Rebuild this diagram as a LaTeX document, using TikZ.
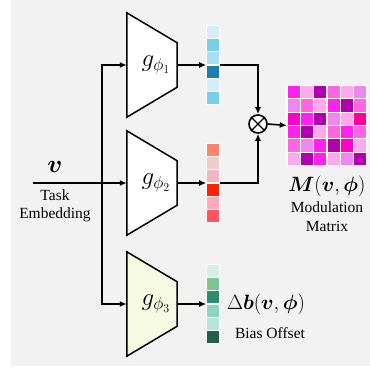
\documentclass[tikz,border=0pt]{standalone}
\usepackage{amsmath, amssymb, bm}
\usepackage{fontspec}
\setmainfont{Liberation Serif}
\usepackage{tikz}
\usetikzlibrary{positioning, arrows.meta, calc}

\definecolor{bggray}{HTML}{F2F2F2}
\definecolor{encyellow}{HTML}{F7FAE3}
% blue vector
\definecolor{b1}{HTML}{D4EEF8}
\definecolor{b2}{HTML}{7ACDEB}
\definecolor{b3}{HTML}{A8DDF2}
\definecolor{b4}{HTML}{1A7FAF}
% red vector
\definecolor{r1}{HTML}{FF8470}
\definecolor{r2}{HTML}{F2CBC8}
\definecolor{r3}{HTML}{F0B7C0}
\definecolor{r4}{HTML}{FF2200}
\definecolor{r5}{HTML}{FFAAB5}
\definecolor{r6}{HTML}{FF5560}
% green vector
\definecolor{t1}{HTML}{D6EFE6}
\definecolor{t2}{HTML}{80C494}
\definecolor{t3}{HTML}{2E8B6E}
\definecolor{t4}{HTML}{8CD4C0}
\definecolor{t5}{HTML}{B7E4D6}
\definecolor{t6}{HTML}{1F5F4C}
% modulation matrix
\definecolor{mA}{HTML}{FF22EE}
\definecolor{mB}{HTML}{FFAAEE}
\definecolor{mC}{HTML}{B000B0}
\definecolor{mD}{HTML}{FF66E0}
\definecolor{mE}{HTML}{EE88EE}
\definecolor{mF}{HTML}{FF00CC}
\definecolor{mG}{HTML}{FF0099}

\begin{document}
\begin{tikzpicture}[x=1pt, y=-1pt,
    encbox/.style={minimum width=50pt, minimum height=104pt, inner sep=0pt},
    enc/.style={draw, line width=1.5pt, line join=miter},
    vecbox/.style={minimum width=13.2pt, minimum height=79.2pt, inner sep=0pt},
    cell/.style={draw=white, line width=1.2pt, minimum size=13.2pt, inner sep=0pt},
    arr/.style={-{Latex[length=7pt,width=6pt]}, line width=1.6pt},
    lbl/.style={font=\fontsize{20}{24}\selectfont, inner sep=1pt},
    glbl/.style={font=\fontsize{25}{30}\selectfont, inner sep=1pt},
    txt/.style={font=\fontsize{15.5}{18.5}\selectfont, align=center, inner sep=1pt}]

    \useasboundingbox (0,0) rectangle (370,369);
    \fill[bggray] (11,0) rectangle (370,366);

    % encoders
    \foreach \i/\y/\col in {1/65/white, 2/183/white, 3/304/encyellow}{
        \node[encbox] (g\i) at (152,\y) {};
        \draw[enc, fill=\col] (g\i.north west) -- ([yshift=-30pt]g\i.north east)
            -- ([yshift=30pt]g\i.south east) -- (g\i.south west) -- cycle;
        \node[glbl] (g\i lbl) at ([xshift=4pt]g\i.center) {$g_{\phi_\i}$};
    }

    % output vectors
    \node[vecbox] (v1) at (213,65) {};
    \node[vecbox] (v2) at (213,183) {};
    \node[vecbox] (v3) at (213,304) {};
    \foreach \c [count=\k] in {b1,b2,b3,b4,b1,b2}
        \node[cell, fill=\c] (v1-\k) at (213,65-39.6+13.2*\k-6.6) {};
    \foreach \c [count=\k] in {r1,r2,r3,r4,r5,r6}
        \node[cell, fill=\c] (v2-\k) at (213,183-39.6+13.2*\k-6.6) {};
    \foreach \c [count=\k] in {t1,t2,t3,t4,t5,t6}
        \node[cell, fill=\c] (v3-\k) at (213,304-39.6+13.2*\k-6.6) {};

    % modulation matrix
    \node[minimum size=80pt, inner sep=0pt] (M) at (327,125.5) {};
    \foreach \row [count=\r] in {{mA,mB,mC,mD,mB,mE},{mE,mD,mB,mA,mC,mD},
            {mF,mA,mC,mE,mB,mG},{mA,mC,mB,mD,mA,mD},{mD,mE,mA,mC,mF,mB},
            {mB,mC,mA,mB,mE,mC}}
        \foreach \c [count=\k] in \row
            \node[cell, minimum size=13.33pt, fill=\c] (M-\r-\k)
                at (287+13.33*\k-6.67, 85.5+13.33*\r-6.67) {};

    \node[circle, draw, line width=1.6pt, minimum size=18pt, inner sep=0pt, fill=white] (mul) at (258,124) {};
    \draw[line width=1.4pt] (mul.north west) -- (mul.south east);
    \draw[line width=1.4pt] (mul.north east) -- (mul.south west);

    % input
    \coordinate (in) at (33,183);
    \coordinate (split) at (102,183);
    \node[glbl] (vlbl) at (55,167) {$\bm{v}$};
    \node[txt] (task) at (55,206) {Task\\Embedding};

    \draw[arr] (in) -- (g2.west);
    \draw[arr] (split) |- (g1.west);
    \draw[arr] (split) |- (g3.west);

    \draw[arr] (g1.east) -- (v1.west);
    \draw[arr] (g2.east) -- (v2.west);
    \draw[arr] (g3.east) -- (v3.west);

    \draw[arr] (v1.east) -| (mul.north);
    \draw[arr] (v2.east) -| (mul.south);
    \draw[arr] (mul.east) -- (M.west);

    % labels
    \node[lbl] (Mlbl) at (327,186) {$\bm{M}(\bm{v},\bm{\phi})$};
    \node[txt] (modtxt) [below=3pt of Mlbl] {Modulation\\Matrix};
    \node[lbl] (blbl) at (266,304) {$\Delta\bm{b}(\bm{v},\bm{\phi})$};
    \node[txt] (biastxt) at (270,333) {Bias Offset};
\end{tikzpicture}
\end{document}
